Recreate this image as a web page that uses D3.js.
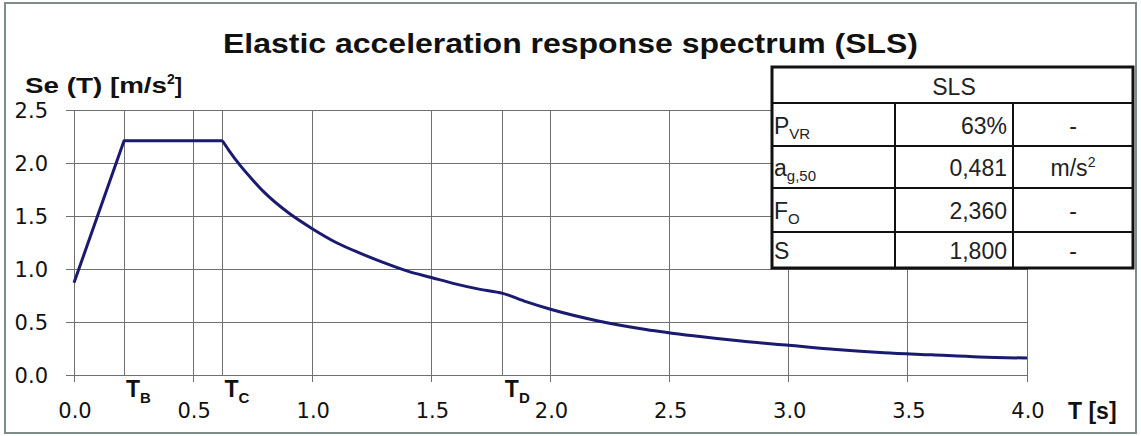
<!DOCTYPE html>
<html>
<head>
<meta charset="utf-8">
<script src="https://d3js.org/d3.v7.min.js"></script>
<style>
    body { margin: 0; background: #fff; }
    svg { display: block; }
    .tick-label { font-family: "DejaVu Sans", Verdana, sans-serif; font-size: 21px; fill: #111; }
    .bold { font-family: "Liberation Sans", Arial, sans-serif; font-weight: bold; fill: #111; }
    .cell { font-family: "Liberation Sans", Arial, sans-serif; font-size: 23px; fill: #222; }
</style>
</head>
<body>
<svg id="chart" width="1141" height="436"></svg>
<script>
    // spectrum
    const periods = [0, 0.21, 0.623, 0.65, 0.7, 0.75, 0.8, 0.9, 1.0, 1.1, 1.2, 1.3, 1.4, 1.5, 1.6, 1.7, 1.8,
        1.9, 2.0, 2.2, 2.4, 2.6, 2.8, 3.0, 3.2, 3.4, 3.6, 3.8, 4.0];
    const seValues = [0.87, 2.21, 2.21, 2.12, 1.97, 1.84, 1.72, 1.53, 1.38, 1.25, 1.15, 1.06, 0.98, 0.92, 0.86, 0.81, 0.77,
        0.69, 0.62, 0.51, 0.43, 0.37, 0.32, 0.28, 0.24, 0.21, 0.19, 0.17, 0.16];
    const xTicks = [0, 0.5, 1.0, 1.5, 2.0, 2.5, 3.0, 3.5, 4.0];
    const yTicks = [0, 0.5, 1.0, 1.5, 2.0, 2.5];
    const cornerNames = ["B", "C", "D"];
    const cornerPeriods = [0.21, 0.623, 1.8];

    // table
    const rowSymbols = ["P", "a", "F", "S"];
    const rowSubs = ["VR", "g,50", "O", ""];
    const rowValues = ["63%", "0,481", "2,360", "1,800"];
    const rowUnits = ["-", "m/s", "-", "-"];
    const rowUnitSup = ["", "2", "", ""];

    const svg = d3.select("#chart");
    const plotL = 74, plotR = 1027, plotT = 110, plotB = 375;

    const x = d3.scaleLinear().domain([0, 4]).range([plotL, plotR]);
    const y = d3.scaleLinear().domain([0, 2.5]).range([plotB, plotT]);

    // outer frame
    svg.append("rect").attr("x", 5).attr("y", 3).attr("width", 1131).attr("height", 430)
        .attr("fill", "#fff").attr("stroke", "#7d8b89").attr("stroke-width", 2);

    const grid = svg.append("g").attr("stroke", "#6f6f6f").attr("stroke-width", 1).attr("shape-rendering", "crispEdges");
    yTicks.forEach(v => {
        grid.append("line").attr("x1", plotL - 8).attr("x2", plotR).attr("y1", y(v)).attr("y2", y(v));
    });
    xTicks.forEach(v => {
        grid.append("line").attr("x1", x(v)).attr("x2", x(v)).attr("y1", plotT).attr("y2", plotB + 7);
    });
    cornerPeriods.forEach(v => {
        grid.append("line").attr("x1", x(v)).attr("x2", x(v)).attr("y1", plotT).attr("y2", plotB);
    });

    svg.append("g").selectAll("text").data(yTicks).join("text")
        .attr("class", "tick-label")
        .attr("x", 48).attr("y", d => y(d) + 8)
        .attr("text-anchor", "end")
        .text(d => d.toFixed(1));

    svg.append("g").selectAll("text").data(xTicks).join("text")
        .attr("class", "tick-label")
        .attr("x", d => x(d) + 1).attr("y", 418)
        .attr("text-anchor", "middle")
        .text(d => d.toFixed(1));

    // T_B, T_C, T_D labels
    cornerPeriods.forEach((v, i) => {
        const t = svg.append("text").attr("class", "bold")
            .attr("x", x(v) + 2).attr("y", 397).style("font-size", "23px");
        t.append("tspan").text("T");
        t.append("tspan").attr("dy", 6).style("font-size", "15px").text(cornerNames[i]);
    });

    // curve: straight rise + plateau, smooth decay after T_C
    const pts = periods.map((p, i) => [p, seValues[i]]);
    const lineFn = d3.line().x(d => x(d[0])).y(d => y(d[1]));
    svg.append("path").datum(pts.slice(0, 3))
        .attr("fill", "none").attr("stroke", "#1a1a70").attr("stroke-width", 3)
        .attr("stroke-linejoin", "round")
        .attr("d", lineFn);
    svg.append("path").datum(pts.slice(2))
        .attr("fill", "none").attr("stroke", "#1a1a70").attr("stroke-width", 3)
        .attr("d", lineFn.curve(d3.curveMonotoneX));

    // titles
    svg.append("text").attr("class", "bold").attr("x", 223).attr("y", 53)
        .style("font-size", "27px")
        .attr("textLength", 695).attr("lengthAdjust", "spacingAndGlyphs")
        .text("Elastic acceleration response spectrum (SLS)");

    const yl = svg.append("text").attr("class", "bold").attr("x", 25).attr("y", 93).style("font-size", "22px");
    yl.append("tspan").attr("textLength", 142).attr("lengthAdjust", "spacingAndGlyphs").text("Se (T) [m/s");
    yl.append("tspan").attr("dy", -9).style("font-size", "14px").text("2");
    yl.append("tspan").attr("dy", 9).text("]");

    svg.append("text").attr("class", "bold").attr("x", 1068).attr("y", 419)
        .style("font-size", "23px").text("T [s]");

    // parameter table
    const tx = [772, 895, 1013, 1133];
    const ty = [67, 103, 146, 188, 232, 268];
    const tbl = svg.append("g");
    tbl.append("rect").attr("x", tx[0]).attr("y", ty[0]).attr("width", tx[3] - tx[0]).attr("height", ty[5] - ty[0])
        .attr("fill", "#fff").attr("stroke", "#111").attr("stroke-width", 3);
    ty.slice(1, 5).forEach(v => {
        tbl.append("line").attr("x1", tx[0]).attr("x2", tx[3]).attr("y1", v).attr("y2", v)
            .attr("stroke", "#111").attr("stroke-width", 2);
    });
    [tx[1], tx[2]].forEach(v => {
        tbl.append("line").attr("x1", v).attr("x2", v).attr("y1", ty[1]).attr("y2", ty[5])
            .attr("stroke", "#111").attr("stroke-width", 2);
    });
    tbl.append("text").attr("class", "cell").attr("x", 954).attr("y", 95)
        .attr("text-anchor", "middle").text("SLS");

    rowSymbols.forEach((s, i) => {
        const base = (ty[i + 1] + ty[i + 2]) / 2 + 9;
        const t = tbl.append("text").attr("class", "cell").attr("x", tx[0] + 2).attr("y", base);
        t.append("tspan").text(s);
        if (rowSubs[i]) t.append("tspan").attr("dy", 5).style("font-size", "15px").text(rowSubs[i]);
        tbl.append("text").attr("class", "cell").attr("x", tx[2] - 6).attr("y", base)
            .attr("text-anchor", "end").text(rowValues[i]);
        const u = tbl.append("text").attr("class", "cell").attr("x", (tx[2] + tx[3]) / 2).attr("y", base)
            .attr("text-anchor", "middle");
        u.append("tspan").text(rowUnits[i]);
        if (rowUnitSup[i]) u.append("tspan").attr("dy", -9).style("font-size", "14px").text(rowUnitSup[i]);
    });
</script>
</body>
</html>
